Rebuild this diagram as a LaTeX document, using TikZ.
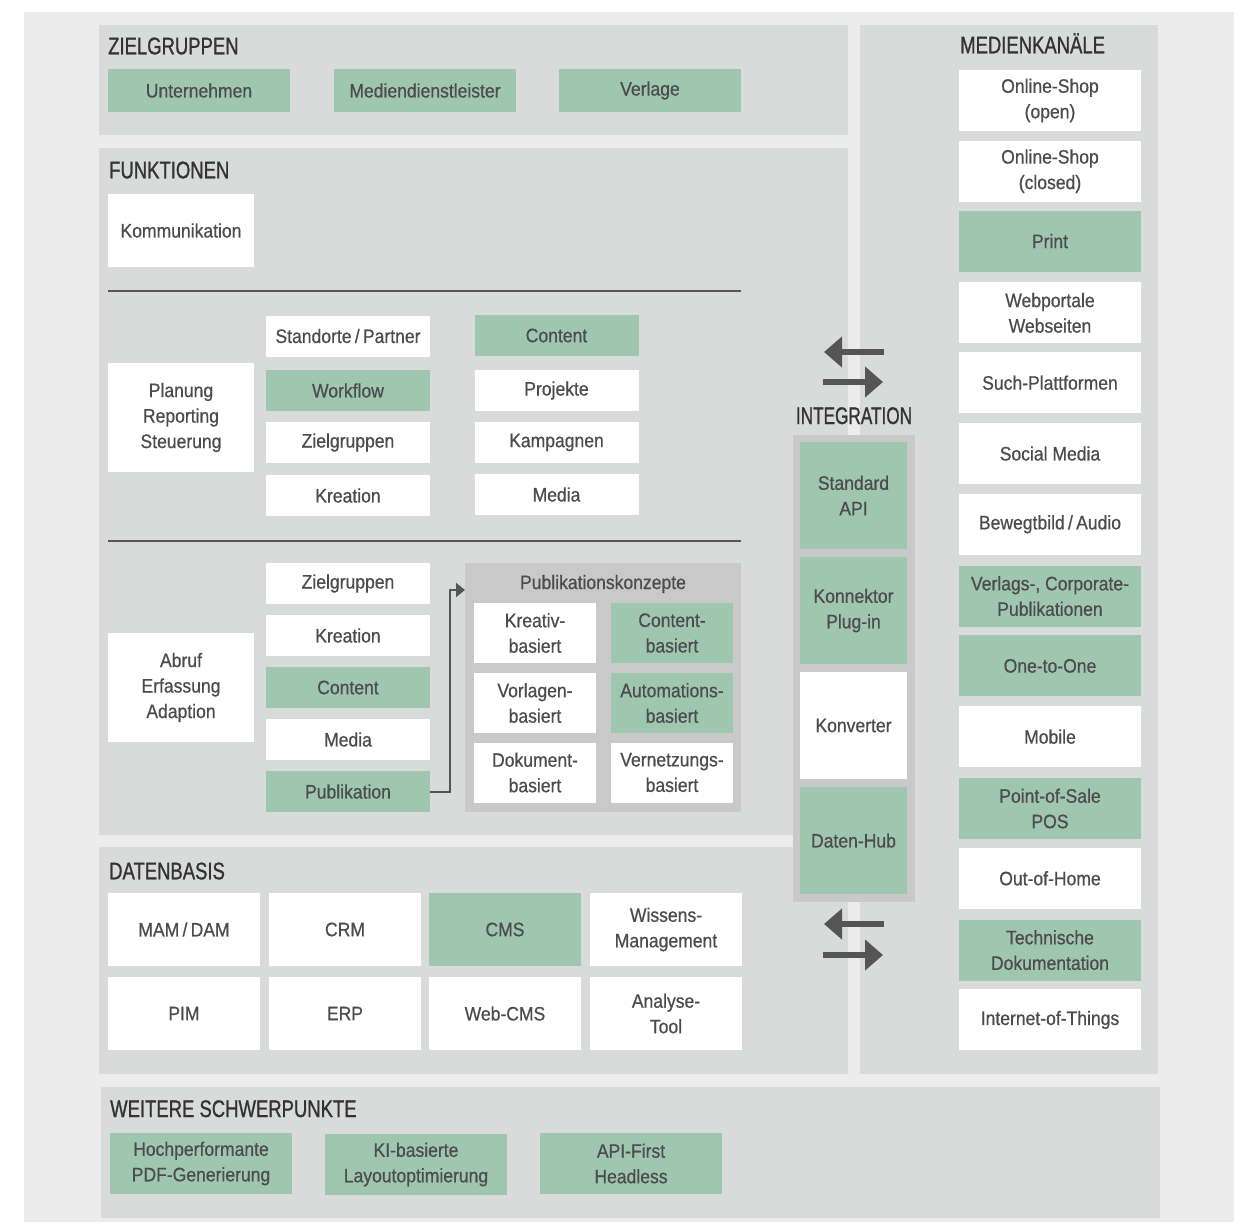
\documentclass[tikz,border=0pt]{standalone}
\usepackage{fontspec}
\usepackage{tikz}
\usetikzlibrary{arrows.meta}
\newfontfamily\boxfnt[FakeStretch=0.9,FakeBold=0.6]{Liberation Sans}
\newfontfamily\headfnt[FakeStretch=0.77,FakeBold=1.0]{Liberation Sans}
\definecolor{bggray}{HTML}{ECECEC}
\definecolor{panelgray}{HTML}{D9DBDA}
\definecolor{darkpanel}{HTML}{C8C9C8}
\definecolor{boxgreen}{HTML}{9FC7B0}
\definecolor{txtgray}{HTML}{4C4C4C}
\definecolor{titlegray}{HTML}{333333}
\definecolor{linegray}{HTML}{555555}

\begin{document}
\begin{tikzpicture}[x=1pt,y=-1pt,
    box/.style={fill=white,text=txtgray,align=center,inner sep=0pt,font=\boxfnt\fontsize{19.5}{25.5}\selectfont},
    gbox/.style={box,fill=boxgreen},
    head/.style={anchor=base west,inner sep=0pt,text=titlegray,font=\headfnt\fontsize{24}{28}\selectfont},
    panel/.style={fill=panelgray},
    divline/.style={draw=linegray,line width=2.5pt},
    conn/.style={draw=linegray,line width=2pt,-{Triangle[length=9pt,width=14pt]}},
    swap/.style={draw=linegray,line width=6.5pt,-{Triangle[length=18pt,width=30pt]}},
    zg/.style={minimum width=182pt,minimum height=42pt},
    lbox/.style={minimum width=146pt,minimum height=109pt},
    fbox/.style={minimum width=164pt,minimum height=41pt},
    pbox/.style={minimum width=122pt,minimum height=60pt},
    dbox/.style={minimum width=152pt,minimum height=73pt},
    ibox/.style={minimum width=107pt,minimum height=107pt},
    mbox/.style={minimum width=182pt,minimum height=61pt}]
                    \useasboundingbox (0,0) rectangle (1242,1223); %%
                    % background and panels
                    \fill[bggray] (24,12) rectangle (1234,1222); %%
                    \fill[panel] (99,25) rectangle (848,135); %%
                    \fill[panel] (99,148) rectangle (848,835); %%
                    \fill[panel] (99,847) rectangle (848,1074); %%
                    \fill[panel] (860,25) rectangle (1158,1074); %%
                    \fill[panel] (101,1087) rectangle (1160,1218); %%
                    \fill[darkpanel] (793,435) rectangle (915,902); %%
                    % titles
                    \node[head] (hzg) at (108,54.3) {ZIELGRUPPEN}; %%
                    \node[head] (hfk) at (109,178.3) {FUNKTIONEN}; %%
                    \node[head] (hdb) at (109,879.3) {DATENBASIS}; %%
                    \node[head] (hws) at (110,1117) {WEITERE SCHWERPUNKTE}; %%
                    \node[head] (hmk) at (960,53.3) {MEDIENKANÄLE}; %%
                    \node[head,anchor=base,xscale=0.93] (hint) at (854,424) {INTEGRATION}; %%
                    % Zielgruppen
                    \node[gbox,zg] (untern) at (199,90.5) {Unternehmen}; %%
                    \node[gbox,zg] (mdl) at (425,90.5) {Mediendienstleister}; %%
                    \node[gbox,zg] (verlage) at (650,90.5) {Verlage}; %%
                    % Funktionen
                    \node[box,minimum width=146pt,minimum height=73pt] (komm) at (181,230.5) {Kommunikation}; %%
                    \draw[divline] (108,291) -- (741,291); %%
                    \node[box,lbox] (plan) at (181,417.5) {Planung\\Reporting\\Steuerung}; %%
                    \node[box,fbox] (stand) at (348,336) {Standorte\,/\,Partner}; %%
                    \node[gbox,fbox] (wflow) at (348,390.5) {Workflow}; %%
                    \node[box,fbox] (zg1) at (348,442.5) {Zielgruppen}; %%
                    \node[box,fbox] (krea1) at (348,495.5) {Kreation}; %%
                    \node[gbox,fbox] (cont1) at (556.5,335.5) {Content}; %%
                    \node[box,fbox] (proj) at (556.5,390.5) {Projekte}; %%
                    \node[box,fbox] (kamp) at (556.5,442.5) {Kampagnen}; %%
                    \node[box,fbox] (media1) at (556.5,494.5) {Media}; %%
                    \draw[divline] (108,541) -- (741,541); %%
                    \node[box,lbox] (abruf) at (181,687.5) {Abruf\\Erfassung\\Adaption}; %%
                    \node[box,fbox] (zg2) at (348,583.5) {Zielgruppen}; %%
                    \node[box,fbox] (krea2) at (348,635.5) {Kreation}; %%
                    \node[gbox,fbox] (cont2) at (348,687.5) {Content}; %%
                    \node[box,fbox] (media2) at (348,739.5) {Media}; %%
                    \node[gbox,fbox] (publ) at (348,791.5) {Publikation}; %%
                    % Publikationskonzepte
                    \node[fill=darkpanel,inner sep=0pt,minimum width=276pt,minimum height=249pt] (pk) at (603,687.5) {}; %%
                    \node[box,fill=none] (pktitle) at (603,584) {Publikationskonzepte}; %%
                    \node[box,pbox] (pkk) at (535,633) {Kreativ-\\basiert}; %%
                    \node[gbox,pbox] (pkc) at (672,633) {Content-\\basiert}; %%
                    \node[box,pbox] (pkv) at (535,703) {Vorlagen-\\basiert}; %%
                    \node[gbox,pbox] (pka) at (672,703) {Automations-\\basiert}; %%
                    \node[box,pbox] (pkd) at (535,772.5) {Dokument-\\basiert}; %%
                    \node[box,pbox] (pkn) at (672,772.5) {Vernetzungs-\\basiert}; %%
                    \coordinate (pkin) at (465,590); %%
                    \draw[conn] (publ.east) -- ++(20,0) |- (pkin); %%
                    % Datenbasis
                    \node[box,dbox] (mam) at (184,929.5) {MAM\,/\,DAM}; %%
                    \node[box,dbox] (crm) at (345,929.5) {CRM}; %%
                    \node[gbox,dbox] (cms) at (505,929.5) {CMS}; %%
                    \node[box,dbox] (wiss) at (666,929.5) {Wissens-\\Management}; %%
                    \node[box,dbox] (pim) at (184,1013.5) {PIM}; %%
                    \node[box,dbox] (erp) at (345,1013.5) {ERP}; %%
                    \node[box,dbox] (webcms) at (505,1013.5) {Web-CMS}; %%
                    \node[box,dbox] (analyse) at (666,1013.5) {Analyse-\\Tool}; %%
                    % Integration
                    \node[gbox,ibox] (api) at (853.5,495.5) {Standard\\API}; %%
                    \node[gbox,ibox] (konn) at (853.5,610.5) {Konnektor\\Plug-in}; %%
                    \node[box,ibox] (konv) at (853.5,725.5) {Konverter}; %%
                    \node[gbox,ibox] (hub) at (853.5,840.5) {Daten-Hub}; %%
                    \coordinate (t1a) at (884,352); \coordinate (t1b) at (824,352); %%
                    \coordinate (t2a) at (823,382); \coordinate (t2b) at (883,382); %%
                    \coordinate (b1a) at (884,924); \coordinate (b1b) at (824,924); %%
                    \coordinate (b2a) at (823,955); \coordinate (b2b) at (883,955); %%
                    \draw[swap] (t1a) -- (t1b); %%
                    \draw[swap] (t2a) -- (t2b); %%
                    \draw[swap] (b1a) -- (b1b); %%
                    \draw[swap] (b2a) -- (b2b); %%
                    % Medienkanaele
                    \node[box,mbox] (mk1) at (1050,100.5) {Online-Shop\\(open)}; %%
                    \node[box,mbox] (mk2) at (1050,171.3) {Online-Shop\\(closed)}; %%
                    \node[gbox,mbox] (mk3) at (1050,241.1) {Print}; %%
                    \node[box,mbox] (mk4) at (1050,312.9) {Webportale\\Webseiten}; %%
                    \node[box,mbox] (mk5) at (1050,382.7) {Such-Plattformen}; %%
                    \node[box,mbox] (mk6) at (1050,453.5) {Social Media}; %%
                    \node[box,mbox] (mk7) at (1050,524.3) {Bewegtbild\,/\,Audio}; %%
                    \node[gbox,mbox] (mk8) at (1050,596.1) {Verlags-, Corporate-\\Publikationen}; %%
                    \node[gbox,mbox] (mk9) at (1050,665.9) {One-to-One}; %%
                    \node[box,mbox] (mk10) at (1050,736.7) {Mobile}; %%
                    \node[gbox,mbox] (mk11) at (1050,808.5) {Point-of-Sale\\POS}; %%
                    \node[box,mbox] (mk12) at (1050,878.3) {Out-of-Home}; %%
                    \node[gbox,mbox] (mk13) at (1050,950.1) {Technische\\Dokumentation}; %%
                    \node[box,mbox] (mk14) at (1050,1019.9) {Internet-of-Things}; %%
                    % Weitere Schwerpunkte
                    \node[gbox,mbox] (ws1) at (201,1163.5) {Hochperformante\\PDF-Generierung}; %%
                    \node[gbox,mbox] (ws2) at (416,1164.5) {KI-basierte\\Layoutoptimierung}; %%
                    \node[gbox,mbox] (ws3) at (631,1163.5) {API-First\\Headless}; %%
\end{tikzpicture}
\end{document}
